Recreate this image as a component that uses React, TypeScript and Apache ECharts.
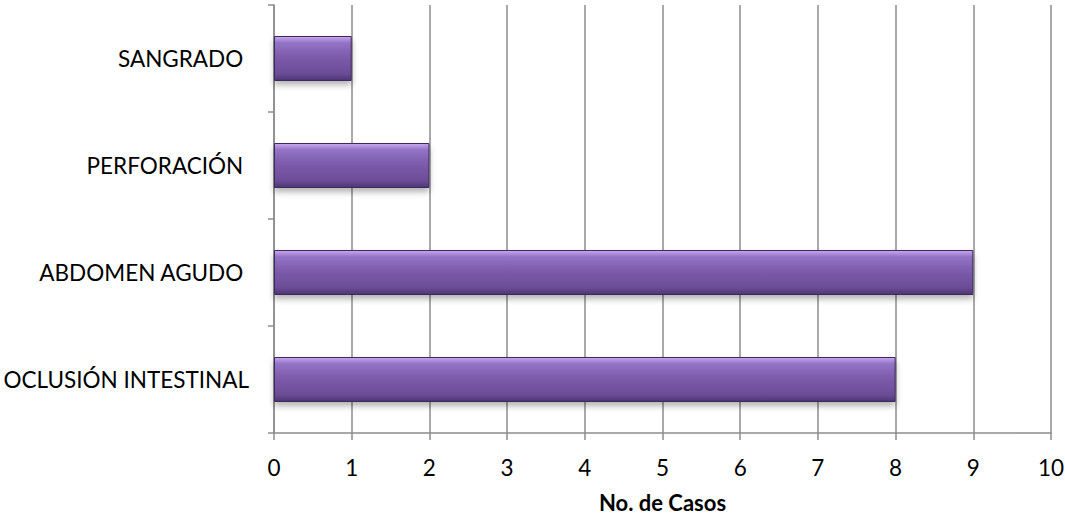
import React, { useEffect, useRef } from "react";
import * as echarts from "echarts";

const categories = ["OCLUSIÓN INTESTINAL", "ABDOMEN AGUDO ", "PERFORACIÓN ", "SANGRADO "];
const values = [8, 9, 2, 1];
const xTicks = [0, 1, 2, 3, 4, 5, 6, 7, 8, 9, 10];
const xAxisName = "No. de Casos";

export default function App() {
  const ref = useRef<HTMLDivElement>(null);
  useEffect(() => {
    if (!ref.current) return;
    const chart = echarts.init(ref.current, undefined, { renderer: "svg" });
    const font = "Lato, 'Open Sans', sans-serif";
    chart.setOption({
      animation: false,
      backgroundColor: "#ffffff",
      grid: {
        left: 274,
        right: 14,
        top: 5,
        bottom: 84,
        containLabel: false,
        outerBoundsMode: "none",
      },
      xAxis: {
        type: "value",
        min: xTicks[0],
        max: xTicks[xTicks.length - 1],
        interval: 1,
        name: xAxisName,
        nameLocation: "middle",
        nameGap: 58,
        nameTextStyle: { fontFamily: font, fontSize: 22, fontWeight: "bold", color: "#000" },
        axisLine: { show: true, lineStyle: { color: "#8c8c8c", width: 1.5 } },
        axisTick: { show: true, length: 7, lineStyle: { color: "#8c8c8c", width: 1.5 } },
        axisLabel: { fontFamily: font, fontSize: 22.5, color: "#000", margin: 23 },
        splitLine: { show: true, lineStyle: { color: "#8c8c8c", width: 1.5 } },
      },
      yAxis: {
        type: "category",
        data: categories,
        axisLine: { show: true, lineStyle: { color: "#8c8c8c", width: 1.5 } },
        axisTick: { show: true, length: 6, lineStyle: { color: "#8c8c8c", width: 1.5 } },
        axisLabel: { fontFamily: font, fontSize: 22.5, color: "#000", margin: 25 },
        splitLine: { show: false },
      },
      series: [
        {
          type: "bar",
          data: values,
          barWidth: 45,
          itemStyle: {
            color: new echarts.graphic.LinearGradient(0, 0, 0, 1, [
              { offset: 0, color: "#c8a8f2" },
              { offset: 0.14, color: "#9474c6" },
              { offset: 0.45, color: "#7d5cad" },
              { offset: 0.85, color: "#6b4c96" },
              { offset: 1, color: "#4b3573" },
            ]),
            borderColor: "#3d2b5c",
            borderWidth: 1,
            shadowColor: "rgba(0,0,0,0.3)",
            shadowBlur: 6,
            shadowOffsetY: 4,
          },
        },
      ],
    });
    return () => chart.dispose();
  }, []);
  return (
    <div
      ref={ref}
      style={{ position: "fixed", left: 0, top: 0, width: 1065, height: 517 }}
    />
  );
}
